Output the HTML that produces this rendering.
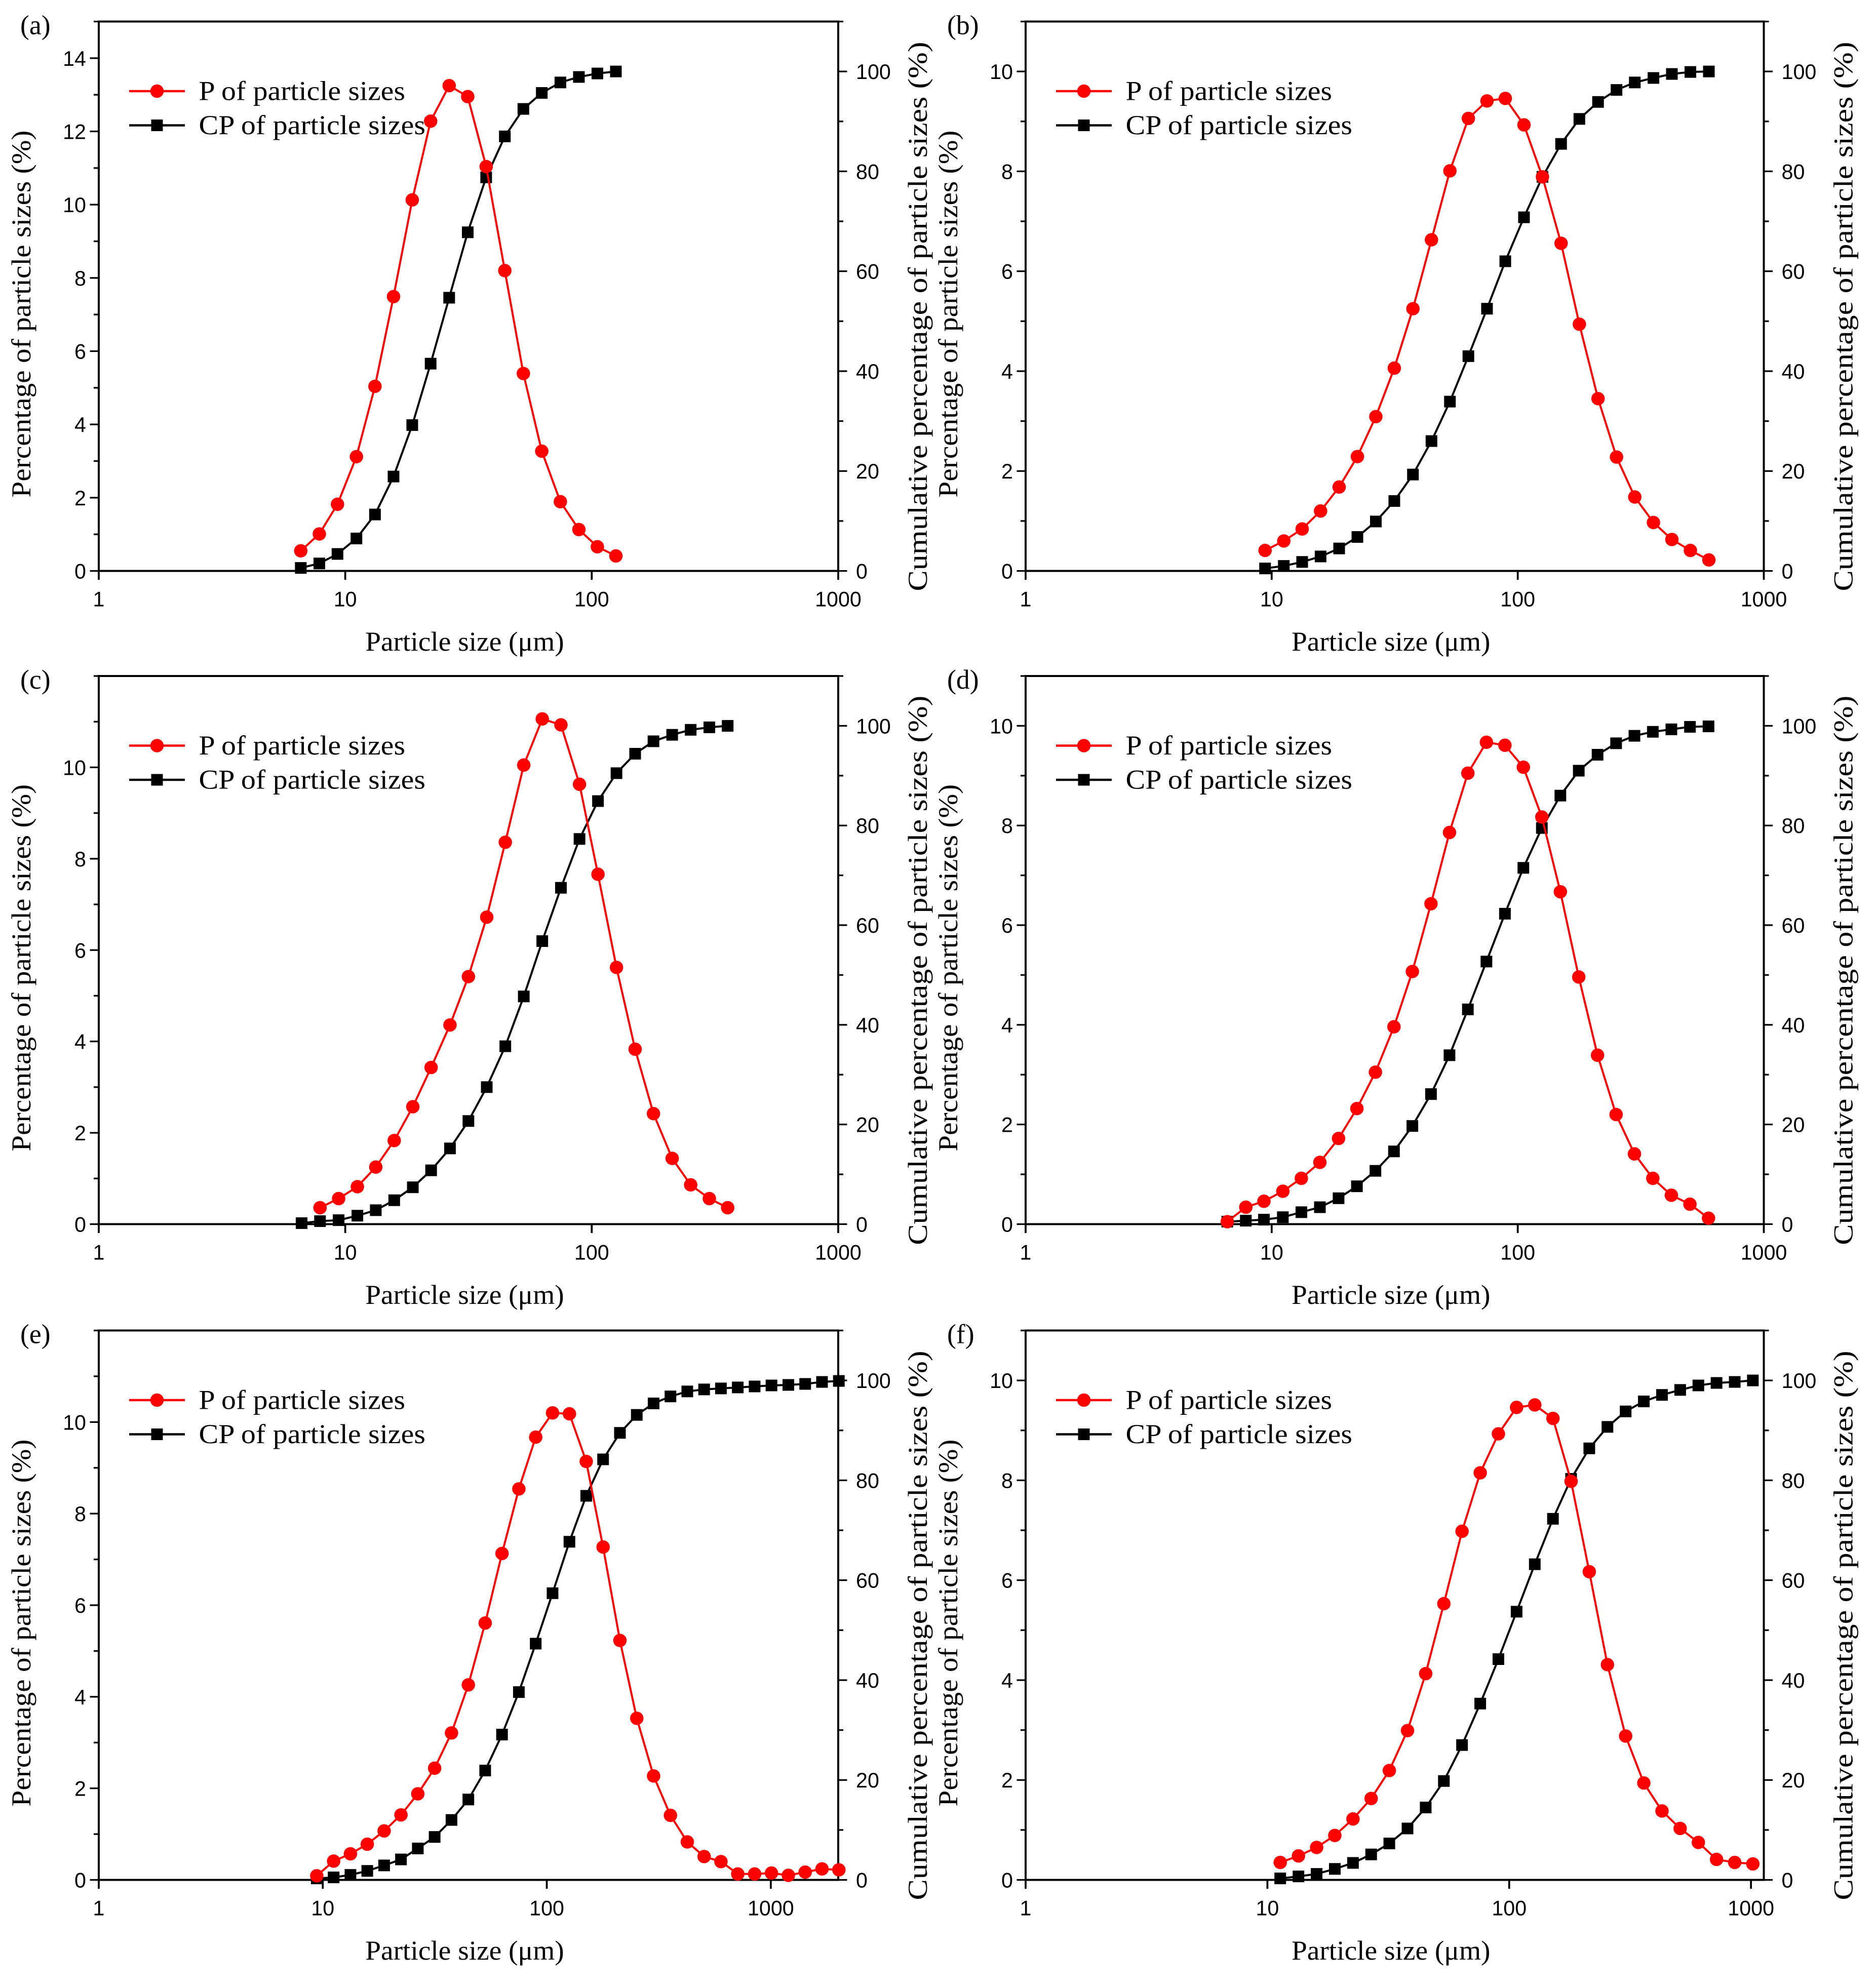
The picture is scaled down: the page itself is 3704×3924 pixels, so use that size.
<!DOCTYPE html>
<html><head><meta charset="utf-8"><style>
html,body{margin:0;padding:0;background:#fff}
svg{display:block}
.tk{font-family:"Liberation Sans",sans-serif;font-size:16.5px;fill:#000}
.tt{font-family:"Liberation Serif",serif;font-size:21.5px;fill:#000}
</style></head><body>
<svg id="fig" width="3704" height="3924" viewBox="0 0 1481.6 1569.6" xmlns="http://www.w3.org/2000/svg"></svg>
<script>
// ---- data (a) ----
const xA=[6.6,7.85,9.3,11.1,13.2,15.7,18.7,22.2,26.4,31.4,37.3,44.4,52.8,62.7,74.6,88.7,105.4,125.3];
const pA=[0.55,1.01,1.82,3.12,5.04,7.49,10.13,12.28,13.25,12.95,11.04,8.2,5.39,3.27,1.89,1.13,0.66,0.41];
const cpA=[0.6,1.5,3.4,6.5,11.3,18.9,29.2,41.5,54.7,67.8,78.8,87.0,92.5,95.7,97.8,98.9,99.6,100];
// ---- data (b) ----
const xB=[9.4,11.2,13.3,15.8,18.8,22.3,26.5,31.5,37.5,44.6,53,63,75,89,106,126,150,178,212,252,299,356,423,503,598];
const pB=[0.41,0.6,0.84,1.2,1.68,2.29,3.09,4.06,5.25,6.63,8.01,9.06,9.41,9.46,8.93,7.89,6.56,4.94,3.45,2.28,1.48,0.97,0.63,0.41,0.22];
const cpB=[0.5,1.0,1.8,2.9,4.5,6.8,9.9,14.0,19.3,26.0,33.9,43.0,52.5,62.0,70.8,78.9,85.5,90.5,93.9,96.3,97.8,98.7,99.5,99.9,100];
// ---- data (c) ----
const xC=[6.65,7.9,9.4,11.2,13.3,15.8,18.8,22.3,26.6,31.6,37.5,44.6,53,63,75,89.2,106,126,150,178,212,252,300,356];
const pC=[null,0.36,0.56,0.82,1.25,1.83,2.57,3.43,4.36,5.42,6.72,8.36,10.05,11.06,10.93,9.63,7.66,5.62,3.83,2.42,1.44,0.86,0.56,0.36];
const cpC=[0.2,0.6,0.8,1.7,2.8,4.8,7.4,10.8,15.2,20.7,27.5,35.7,45.7,56.8,67.5,77.3,84.9,90.5,94.4,96.9,98.2,99.2,99.7,100];
// ---- data (d) ----
const xD=[6.6,7.85,9.3,11.1,13.2,15.7,18.7,22.2,26.4,31.4,37.3,44.4,52.8,62.7,74.6,88.7,105.4,125.3,149,177,211,251,298,354,421,501,596];
const pD=[0.05,0.34,0.46,0.66,0.92,1.24,1.72,2.32,3.05,3.96,5.07,6.43,7.86,9.05,9.67,9.61,9.17,8.17,6.67,4.96,3.39,2.2,1.41,0.92,0.58,0.4,0.12];
const cpD=[0.5,0.7,0.9,1.4,2.4,3.4,5.2,7.6,10.7,14.6,19.7,26.1,33.9,43.1,52.7,62.3,71.5,79.5,86.0,91.0,94.2,96.5,98.0,98.8,99.3,99.8,99.9];
// ---- data (e) ----
const xE=[9.4,11.18,13.29,15.8,18.79,22.34,26.56,31.58,37.55,44.65,53.09,63.12,75.05,89.24,106.1,126.2,150,178.4,212.1,252.2,299.8,356.5,423.9,504,599,712,847,1007,1198,1424,1693,2013];
const pE=[0.09,0.41,0.57,0.78,1.07,1.42,1.88,2.44,3.21,4.26,5.61,7.13,8.54,9.67,10.2,10.18,9.14,7.27,5.23,3.53,2.27,1.41,0.83,0.51,0.4,0.13,0.13,0.15,0.1,0.17,0.24,0.22];
const cpE=[0.3,0.5,1.0,1.8,2.9,4.1,6.3,8.6,12.0,16.1,21.9,29.1,37.6,47.3,57.4,67.7,76.9,84.2,89.5,93.1,95.4,96.8,97.8,98.2,98.4,98.6,98.8,99.0,99.1,99.3,99.7,99.9];
// ---- data (f) ----
const xF=[11.3,13.44,15.98,19,22.59,26.86,31.93,37.97,45.15,53.68,63.82,75.89,90.23,107.3,127.6,151.7,180.3,214.4,254.9,303.1,360.4,428.5,509.5,605.8,720.3,856.5,1018];
const pF=[0.35,0.48,0.65,0.89,1.22,1.63,2.19,2.99,4.13,5.53,6.98,8.15,8.93,9.46,9.51,9.24,7.98,6.17,4.31,2.88,1.94,1.38,1.03,0.75,0.41,0.35,0.32];
const cpF=[0.3,0.7,1.2,2.2,3.4,5.1,7.3,10.3,14.5,19.8,27.0,35.3,44.2,53.7,63.2,72.3,80.3,86.4,90.7,93.8,95.8,97.1,98.1,99.0,99.5,99.7,100];
// ---- tick labels ----
const xTicks=[1,10,100,1000];
const rightTicks=[0,20,40,60,80,100];

const panels=[
 {id:'a',L:78,R:662,T:17,B:451,xmax:1000,ymax:15,ystep:2,x:xA,p:pA,cp:cpA},
 {id:'b',L:810,R:1393,T:17,B:451,xmax:1000,ymax:11,ystep:2,x:xB,p:pB,cp:cpB},
 {id:'c',L:78,R:662,T:534,B:967,xmax:1000,ymax:12,ystep:2,x:xC,p:pC,cp:cpC},
 {id:'d',L:810,R:1393,T:534,B:967,xmax:1000,ymax:11,ystep:2,x:xD,p:pD,cp:cpD},
 {id:'e',L:78,R:662,T:1051,B:1485,xmax:2000,ymax:12,ystep:2,x:xE,p:pE,cp:cpE},
 {id:'f',L:810,R:1393,T:1051,B:1485,xmax:1130,ymax:11,ystep:2,x:xF,p:pF,cp:cpF}
];
const NS='http://www.w3.org/2000/svg';
const svg=document.getElementById('fig');
function mk(tag,attrs,parent,txt){const e=document.createElementNS(NS,tag);for(const k in attrs)e.setAttribute(k,attrs[k]);if(txt!==undefined)e.textContent=txt;(parent||svg).appendChild(e);return e;}

panels.forEach(pn=>{
 const g=mk('g',{});
 
 
 const xs=v=>pn.L+(Math.log10(v)/Math.log10(pn.xmax))*(pn.R-pn.L);
 const yl=v=>pn.B-(v/pn.ymax)*(pn.B-pn.T);
 const yr=v=>pn.B-(v/110)*(pn.B-pn.T);
 const fr=mk('rect',{x:pn.L,y:pn.T,width:pn.R-pn.L,height:pn.B-pn.T,fill:'none',stroke:'#000','stroke-width':1.6},g);
 
 
 xTicks.forEach(t=>{if(t>pn.xmax*1.001)return;const x=xs(t);
  mk('line',{x1:x,x2:x,y1:pn.B,y2:pn.B+7,stroke:'#000','stroke-width':1.5},g);
  const tl=mk('text',{x:x,y:pn.B+28,'text-anchor':'middle',class:'tk'},g,String(t));
  
  });
 for(let v=0;v<=pn.ymax+1e-9;v+=1){const y=yl(v);const major=(v%pn.ystep===0)&&v<pn.ymax;
  mk('line',{x1:pn.L-(major?7:4),x2:pn.L,y1:y,y2:y,stroke:'#000','stroke-width':1.3},g);
  if(major){const tl=mk('text',{x:pn.L-10,y:y+6,'text-anchor':'end',class:'tk'},g,String(v));
   
   }}
 for(let v=0;v<=110;v+=10){const y=yr(v);const major=rightTicks.indexOf(v)>=0;
  mk('line',{x1:pn.R,x2:pn.R+(major?7:4),y1:y,y2:y,stroke:'#000','stroke-width':1.3},g);
  if(major){const tl=mk('text',{x:pn.R+14,y:y+6,'text-anchor':'start',class:'tk'},g,String(v));
   
   }}
 const cx=(pn.L+pn.R)/2, cy=(pn.T+pn.B)/2;
 const xt=mk('text',{x:cx-3,y:pn.B+63,'text-anchor':'middle',class:'tt',textLength:157,lengthAdjust:'spacingAndGlyphs'},g,'Particle size (\u03bcm)');
 
 
 const lt=mk('text',{x:0,y:0,'text-anchor':'middle',class:'tt',textLength:290,lengthAdjust:'spacingAndGlyphs',transform:`translate(${pn.L-54},${cy+14}) rotate(-90)`},g,'Percentage of  particle sizes (%)');
 
 
 const rt=mk('text',{x:0,y:0,'text-anchor':'middle',class:'tt',textLength:434,lengthAdjust:'spacingAndGlyphs',transform:`translate(${pn.R+70},${cy+16}) rotate(-90)`},g,'Cumulative percentage of  particle sizes (%)');
 
 
 const pl=mk('text',{x:pn.L-62,y:pn.T+10,class:'tt'},g,'('+pn.id+')');
 
 
 let d='';pn.x.forEach((xv,i)=>{const v=pn.cp[i];if(v==null)return;d+=(d?'L':'M')+xs(xv).toFixed(2)+','+yr(v).toFixed(2);});
 const bl=mk('path',{d:d,fill:'none',stroke:'#000','stroke-width':1.6},g);
 
 
 pn.x.forEach((xv,i)=>{const v=pn.cp[i];if(v==null)return;
  const s=mk('rect',{x:xs(xv)-4.6,y:yr(v)-4.6,width:9.2,height:9.2,fill:'#000'},g);
  
  });
 d='';pn.x.forEach((xv,i)=>{const v=pn.p[i];if(v==null)return;d+=(d?'L':'M')+xs(xv).toFixed(2)+','+yl(v).toFixed(2);});
 const rl=mk('path',{d:d,fill:'none',stroke:'#ff0000','stroke-width':1.6},g);
 
 
 pn.x.forEach((xv,i)=>{const v=pn.p[i];if(v==null)return;
  const c=mk('circle',{cx:xs(xv),cy:yl(v),r:5.3,fill:'#ff0000'},g);
  
  });
 const lg=mk('g',{},g);
 
 
 const ly1=pn.T+55, ly2=pn.T+82, lx=pn.L+24;
 mk('line',{x1:lx,x2:lx+44,y1:ly1,y2:ly1,stroke:'#ff0000','stroke-width':1.8},lg);
 mk('circle',{cx:lx+22,cy:ly1,r:5.3,fill:'#ff0000'},lg);
 const e1=mk('text',{x:lx+55,y:ly1+7,class:'tt',textLength:163,lengthAdjust:'spacingAndGlyphs'},lg,'P of  particle sizes');
 
 
 mk('line',{x1:lx,x2:lx+44,y1:ly2,y2:ly2,stroke:'#000','stroke-width':1.8},lg);
 mk('rect',{x:lx+17.4,y:ly2-4.6,width:9.2,height:9.2,fill:'#000'},lg);
 const e2=mk('text',{x:lx+55,y:ly2+7,class:'tt',textLength:179,lengthAdjust:'spacingAndGlyphs'},lg,'CP of  particle sizes');
 
 
});
</script>
</body></html>
